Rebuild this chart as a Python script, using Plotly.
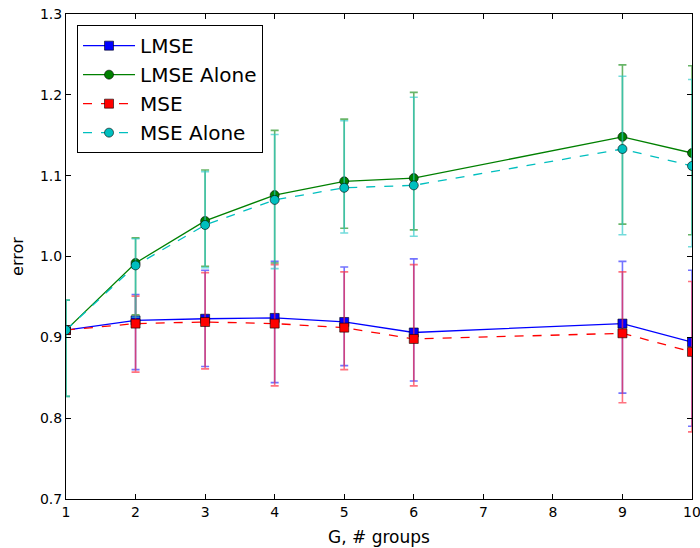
import plotly.graph_objects as go

groups = [1, 2, 3, 4, 5, 6, 9, 10]

lmse = [0.909, 0.921, 0.923, 0.924, 0.919, 0.906, 0.917, 0.894]
lmse_up = [0.0, 0.953, 0.983, 0.994, 0.987, 0.997, 0.994, 0.983]
lmse_lo = [0.0, 0.860, 0.864, 0.844, 0.865, 0.846, 0.831, 0.790]

lmse_alone = [0.909, 0.992, 1.044, 1.076, 1.093, 1.097, 1.148, 1.128]
lmse_alone_up = [0.946, 1.023, 1.107, 1.156, 1.170, 1.203, 1.237, 1.236]
lmse_alone_lo = [0.827, 0.928, 0.988, 0.992, 1.035, 1.033, 1.040, 1.027]

mse = [0.909, 0.917, 0.919, 0.917, 0.912, 0.898, 0.905, 0.882]
mse_up = [0.0, 0.951, 0.980, 0.990, 0.981, 0.990, 0.981, 0.969]
mse_lo = [0.0, 0.857, 0.861, 0.840, 0.860, 0.840, 0.819, 0.783]

mse_alone = [0.909, 0.989, 1.039, 1.070, 1.085, 1.088, 1.133, 1.112]
mse_alone_up = [0.946, 1.022, 1.105, 1.151, 1.168, 1.197, 1.223, 1.219]
mse_alone_lo = [0.827, 0.925, 0.986, 0.985, 1.029, 1.025, 1.027, 1.012]


def errs(center, up, lo):
    plus = [max(u - c, 0) if u else 0 for c, u in zip(center, up)]
    minus = [max(c - l, 0) if l else 0 for c, l in zip(center, lo)]
    return plus, minus


series = [
    ("LMSE", lmse, lmse_up, lmse_lo, "#0000ff", "solid", "square", "rgba(40,40,255,0.65)"),
    ("LMSE Alone", lmse_alone, lmse_alone_up, lmse_alone_lo, "#008000", "solid", "circle", "rgba(40,150,40,0.7)"),
    ("MSE", mse, mse_up, mse_lo, "#ff0000", "dash", "square", "rgba(255,40,60,0.65)"),
    ("MSE Alone", mse_alone, mse_alone_up, mse_alone_lo, "#00bfbf", "dash", "circle", "rgba(40,200,200,0.65)"),
]

fig = go.Figure()
for i, (name, vals, up, lo, color, dash, sym, ecolor) in enumerate(series):
    plus, minus = errs(vals, up, lo)
    fig.add_trace(go.Scatter(
        x=groups, y=vals, name=name, mode="lines+markers",
        line=dict(color=color, width=1.3, dash=dash),
        marker=dict(symbol=sym, size=9, color=color, line=dict(color="black", width=0.6)),
        error_y=dict(type="data", symmetric=False, array=plus, arrayminus=minus,
                     color=ecolor, thickness=1.6, width=4),
        legendgroup=f"g{i}",
        cliponaxis=True,
    ))

axis_common = dict(
    showline=True, linecolor="black", linewidth=1, mirror="ticks",
    ticks="inside", ticklen=5, tickcolor="black", showgrid=False, zeroline=False,
    tickfont=dict(family="DejaVu Sans", size=14, color="black"),
    automargin=False, ticklabeloverflow="allow",
)

fig.update_layout(
    width=700, height=548,
    margin=dict(l=66, r=8, t=14, b=49),
    paper_bgcolor="white", plot_bgcolor="white",
    font=dict(family="DejaVu Sans", size=14, color="black"),
    xaxis=dict(range=[1, 10], tickvals=list(range(1, 11)),
               title=dict(text="G, # groups", standoff=12, font=dict(size=17)), **axis_common),
    yaxis=dict(range=[0.7, 1.3], tickvals=[0.7, 0.8, 0.9, 1.0, 1.1, 1.2, 1.3],
               ticktext=["0.7", "0.8", "0.9", "1.0", "1.1", "1.2", "1.3"],
               title=dict(text="error", standoff=12, font=dict(size=16)), **axis_common),
    legend=dict(x=0.0176, y=0.977, xanchor="left", yanchor="top",
                bgcolor="white", bordercolor="black", borderwidth=1,
                font=dict(family="DejaVu Sans", size=20, color="black"),
                itemwidth=52, tracegroupgap=0),
    showlegend=True,
)

fig.write_html("out.html")
